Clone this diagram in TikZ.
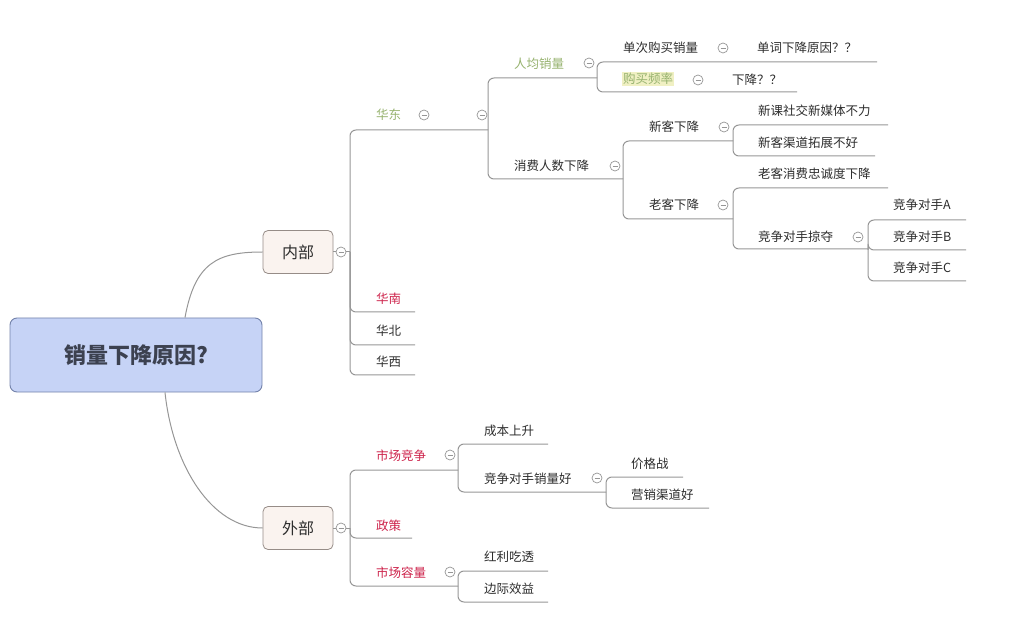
\documentclass[tikz,border=0pt]{standalone}
\usepackage{fontspec}
\setmainfont{Noto Sans CJK SC}
\usetikzlibrary{positioning, calc}
\definecolor{rootfill}{RGB}{198,211,246}
\definecolor{rootborder}{RGB}{115,130,170}
\definecolor{roottext}{RGB}{60,65,80}
\definecolor{mainfill}{RGB}{250,243,239}
\definecolor{mainborder}{RGB}{150,140,135}
\definecolor{linecolor}{RGB}{150,150,150}
\definecolor{textcolor}{RGB}{45,45,45}
\definecolor{greentext}{RGB}{150,178,110}
\definecolor{redtext}{RGB}{205,35,75}
\definecolor{highlight}{RGB}{240,240,195}
\tikzset{
    root/.style={rectangle, draw=rootborder, fill=rootfill, rounded corners=7pt, line width=0.9pt,
        minimum width=252pt, minimum height=74pt, font=\fontsize{22}{26}\selectfont\bfseries, text=roottext},
    mainbox/.style={rectangle, draw=mainborder, fill=mainfill, rounded corners=5pt, line width=0.8pt,
        minimum width=70pt, minimum height=43pt, font=\fontsize{16}{20}\selectfont, text=textcolor},
    topic/.style={anchor=west, inner sep=1pt, font=\fontsize{12.5}{15}\selectfont, text=textcolor},
    green/.style={text=greentext},
    red/.style={text=redtext},
    fold/.style={circle, draw=linecolor, fill=white, line width=0.7pt, minimum size=10pt, inner sep=0pt,
        path picture={\draw[linecolor, line width=0.7pt] ([xshift=-2.5pt]path picture bounding box.center)
            -- ([xshift=2.5pt]path picture bounding box.center);}},
    branch/.style={draw=linecolor, line width=1pt, rounded corners=6pt},
    curve/.style={draw=linecolor, line width=1pt}
}

\begin{document}
\begin{tikzpicture}[x=1pt, y=-1pt]
    \useasboundingbox (0,0) rectangle (1009,617);

    % root and the two main topics
    \node[root] (root) at (136,355) {销量下降原因?};
    \node[mainbox] (inner) at (298,252) {内部};
    \node[mainbox] (outer) at (298,528) {外部};

    \draw[curve] ([xshift=49pt]root.north) .. controls +(10,-55) and +(-45,0) .. (inner.west);
    \draw[curve] ([xshift=29pt]root.south) .. controls +(8,75) and +(-50,0) .. (outer.west);

    % junctions and underline ends
    \coordinate (in-j) at (350,252);
    \coordinate (out-j) at (350,528);
    \coordinate (east-e) at (488,130);
    \coordinate (south-e) at (415,312);
    \coordinate (north-e) at (415,345);
    \coordinate (west-e) at (415,375);
    \coordinate (avg-e) at (597,78);
    \coordinate (buyers-e) at (623,179);
    \coordinate (single-e) at (877,62);
    \coordinate (freq-e) at (797,92);
    \coordinate (newc-e) at (733,141);
    \coordinate (oldc-e) at (733,219);
    \coordinate (newc1-e) at (888,125);
    \coordinate (newc2-e) at (875,156);
    \coordinate (oldc1-e) at (888,188);
    \coordinate (rival-e) at (868,249);
    \coordinate (rival-j) at (868,250);
    \coordinate (rivalA-e) at (966,220);
    \coordinate (rivalB-e) at (966,250);
    \coordinate (rivalC-e) at (966,281);
    \coordinate (compete-e) at (458,470);
    \coordinate (policy-e) at (412,538);
    \coordinate (capacity-e) at (458,586);
    \coordinate (cost-e) at (548,444);
    \coordinate (rsales-e) at (606,492);
    \coordinate (price-e) at (683,477);
    \coordinate (channel-e) at (709,508);
    \coordinate (bonus-e) at (548,571);
    \coordinate (margin-e) at (548,602);

    % branches
    \draw[branch] (inner.east) -- (in-j);
    \draw[branch] (outer.east) -- (out-j);
    \draw[branch] (in-j) |- (east-e);
    \draw[branch] (in-j) |- (south-e);
    \draw[branch] (in-j) |- (north-e);
    \draw[branch] (in-j) |- (west-e);
    \draw[branch] (east-e) |- (avg-e);
    \draw[branch] (east-e) |- (buyers-e);
    \draw[branch] (avg-e) |- (single-e);
    \draw[branch] (avg-e) |- (freq-e);
    \draw[branch] (buyers-e) |- (newc-e);
    \draw[branch] (buyers-e) |- (oldc-e);
    \draw[branch] (newc-e) |- (newc1-e);
    \draw[branch] (newc-e) |- (newc2-e);
    \draw[branch] (oldc-e) |- (oldc1-e);
    \draw[branch] (oldc-e) |- (rival-e);
    \draw[branch] (rival-j) |- (rivalA-e);
    \draw[branch] (rival-j) |- (rivalB-e);
    \draw[branch] (rival-j) |- (rivalC-e);
    \draw[branch] (out-j) |- (compete-e);
    \draw[branch] (out-j) |- (policy-e);
    \draw[branch] (out-j) |- (capacity-e);
    \draw[branch] (compete-e) |- (cost-e);
    \draw[branch] (compete-e) |- (rsales-e);
    \draw[branch] (rsales-e) |- (price-e);
    \draw[branch] (rsales-e) |- (channel-e);
    \draw[branch] (capacity-e) |- (bonus-e);
    \draw[branch] (capacity-e) |- (margin-e);

    % topics
    \node[topic, green] (east) at (375,115) {华东};
    \node[topic, red] (south) at (375,299) {华南};
    \node[topic] (north) at (375,331) {华北};
    \node[topic] (west) at (375,362) {华西};
    \node[topic, green] (avg) at (513,64) {人均销量};
    \node[topic] (buyers) at (513,166) {消费人数下降};
    \node[topic] (single) at (622,48) {单次购买销量};
    \node[topic] (singleq) at (756,48) {单词下降原因？？};
    \node[topic, green, fill=highlight] (freq) at (622,79) {购买频率};
    \node[topic] (freqq) at (731,80) {下降？？};
    \node[topic] (newc) at (648,127) {新客下降};
    \node[topic] (oldc) at (648,205) {老客下降};
    \node[topic] (newc1) at (757,111) {新课社交新媒体不力};
    \node[topic] (newc2) at (757,143) {新客渠道拓展不好};
    \node[topic] (oldc1) at (757,174) {老客消费忠诚度下降};
    \node[topic] (rival) at (757,237) {竞争对手掠夺};
    \node[topic] (rivalA) at (892,205) {竞争对手A};
    \node[topic] (rivalB) at (892,237) {竞争对手B};
    \node[topic] (rivalC) at (892,268) {竞争对手C};
    \node[topic, red] (compete) at (375,456) {市场竞争};
    \node[topic, red] (policy) at (375,526) {政策};
    \node[topic, red] (capacity) at (375,573) {市场容量};
    \node[topic] (cost) at (483,431) {成本上升};
    \node[topic] (rsales) at (483,479) {竞争对手销量好};
    \node[topic] (price) at (630,464) {价格战};
    \node[topic] (channel) at (630,495) {营销渠道好};
    \node[topic] (bonus) at (483,557) {红利吃透};
    \node[topic] (margin) at (483,589) {边际效益};

    % fold markers
    \node[fold] (f-inner) at (341,252) {};
    \node[fold] (f-outer) at (341,528) {};
    \node[fold] (f-east) at (424,115) {};
    \node[fold] (f-east2) at (482,115) {};
    \node[fold] (f-avg) at (589,63) {};
    \node[fold] (f-buyers) at (615,166) {};
    \node[fold] (f-single) at (723,48) {};
    \node[fold] (f-freq) at (698,80) {};
    \node[fold] (f-newc) at (724,127) {};
    \node[fold] (f-oldc) at (723,205) {};
    \node[fold] (f-rival) at (858,237) {};
    \node[fold] (f-compete) at (450,455) {};
    \node[fold] (f-rsales) at (597,478) {};
    \node[fold] (f-capacity) at (450,572) {};

\end{tikzpicture}
\end{document}
